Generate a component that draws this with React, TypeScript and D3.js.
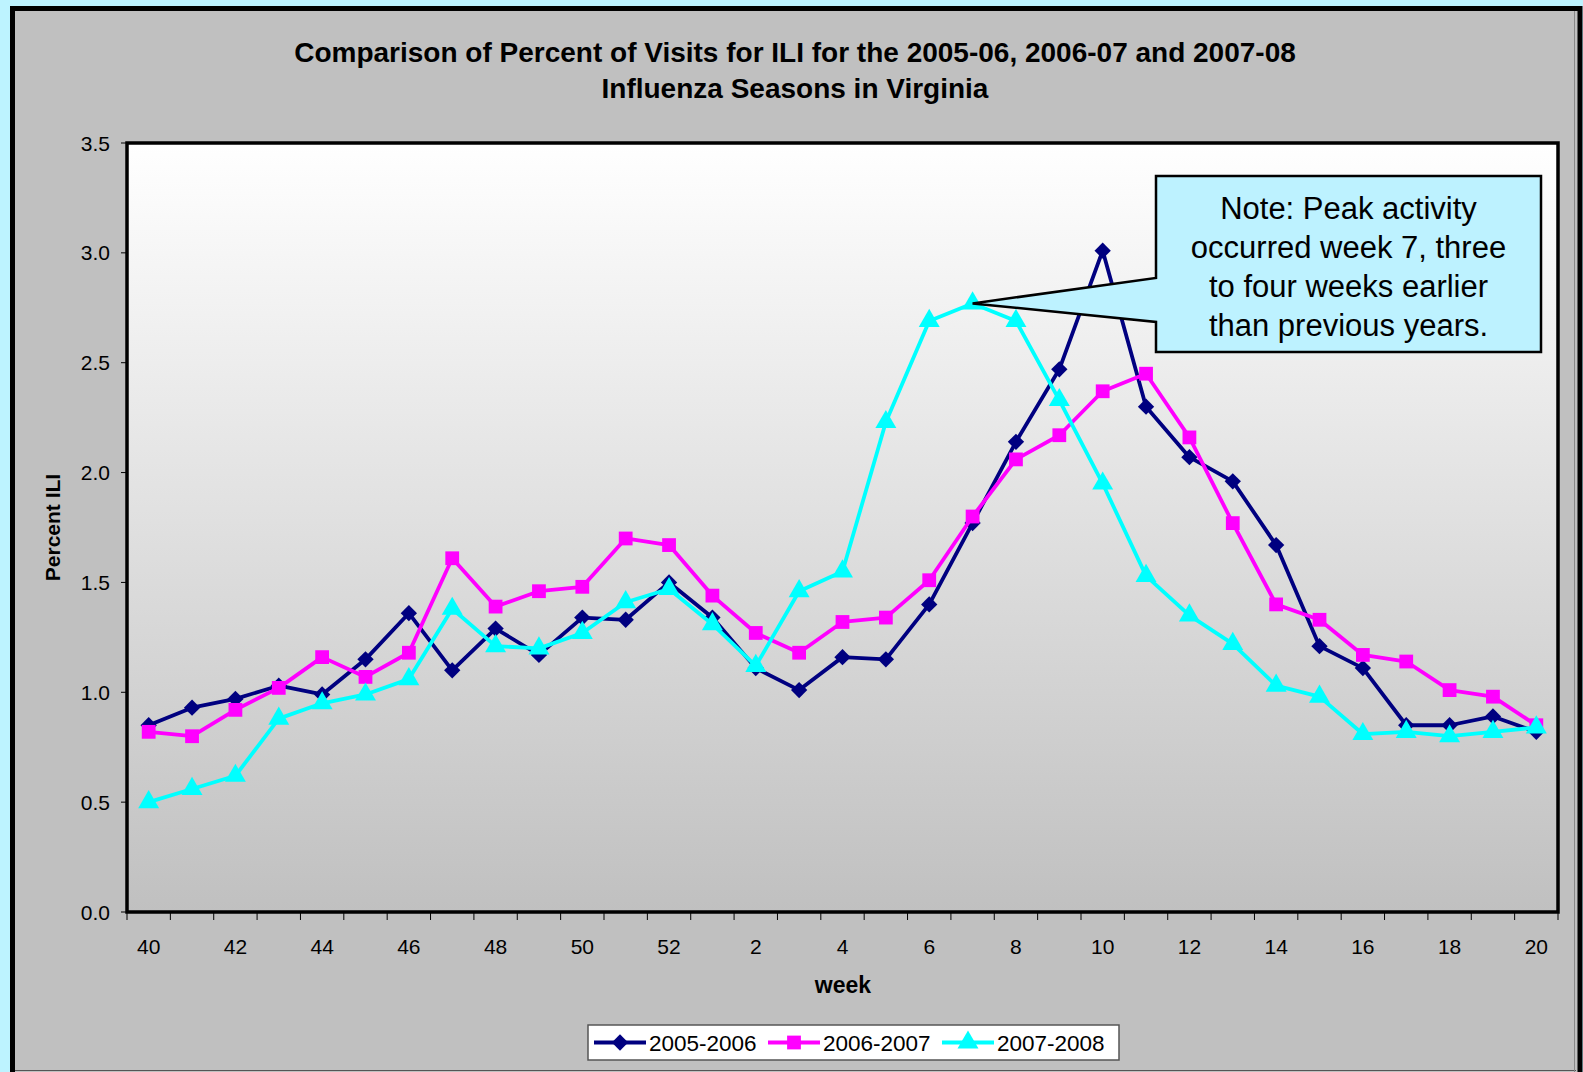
import * as d3 from "d3";
import React, { useEffect } from "react";

const width = 1583;
const height = 1072;
const margin = { top: 143, right: 25, bottom: 160, left: 127 };

// weeks 40..52 then 1..20
const weeks = [
  40, 41, 42, 43, 44, 45, 46, 47, 48, 49, 50, 51, 52,
  1, 2, 3, 4, 5, 6, 7, 8, 9, 10, 11, 12, 13, 14, 15, 16, 17, 18, 19, 20,
];

const season0506 = [
  0.85, 0.93, 0.97, 1.03, 0.99, 1.15, 1.36, 1.1, 1.29, 1.17, 1.34, 1.33, 1.5,
  1.34, 1.11, 1.01, 1.16, 1.15, 1.4, 1.77, 2.14, 2.47, 3.01, 2.3, 2.07, 1.96,
  1.67, 1.21, 1.11, 0.85, 0.85, 0.89, 0.82,
];

const season0607 = [
  0.82, 0.8, 0.92, 1.02, 1.16, 1.07, 1.18, 1.61, 1.39, 1.46, 1.48, 1.7, 1.67,
  1.44, 1.27, 1.18, 1.32, 1.34, 1.51, 1.8, 2.06, 2.17, 2.37, 2.45, 2.16, 1.77,
  1.4, 1.33, 1.17, 1.14, 1.01, 0.98, 0.85,
];

const season0708 = [
  0.5, 0.56, 0.62, 0.88, 0.95, 0.99, 1.06, 1.38, 1.21, 1.2, 1.27, 1.41, 1.47,
  1.31, 1.12, 1.46, 1.55, 2.23, 2.69, 2.77, 2.69, 2.33, 1.95, 1.53, 1.35, 1.22,
  1.03, 0.98, 0.81, 0.82, 0.8, 0.82, 0.84,
];

const yTicks = [0, 0.5, 1, 1.5, 2, 2.5, 3, 3.5];

const seriesNames = ["2005-2006", "2006-2007", "2007-2008"];
const seriesColors = ["#000080", "#FF00FF", "#00FFFF"];
const seriesShapes = [d3.symbolDiamond2, d3.symbolSquare, d3.symbolTriangle];
const symbolSizes = [170, 190, 190];

const titleLines = [
  "Comparison of Percent of Visits for ILI for the 2005-06, 2006-07 and 2007-08",
  "Influenza Seasons in Virginia",
];
const noteLines = [
  "Note: Peak activity",
  "occurred week 7, three",
  "to four weeks earlier",
  "than previous years.",
];

const font = "Arial, 'Liberation Sans', sans-serif";

const App = () => {
  useEffect(() => {
    document.body.style.margin = "0";
    document.body.style.overflow = "hidden";
  }, []);

  const allSeries = [season0506, season0607, season0708];

  const xScale = d3
    .scaleBand<number>()
    .domain(d3.range(weeks.length))
    .range([margin.left, width - margin.right]);

  const yScale = d3
    .scaleLinear()
    .domain([0, 3.5])
    .range([height - margin.bottom, margin.top]);

  const cx = (i: number) => (xScale(i) as number) + xScale.bandwidth() / 2;

  const line = d3
    .line<number>()
    .x((d, i) => cx(i))
    .y((d) => yScale(d));

  const plotLeft = margin.left;
  const plotRight = width - margin.right;
  const plotTop = margin.top;
  const plotBottom = height - margin.bottom;

  // callout box
  const box = { x: 1156, y: 176, w: 385, h: 176 };
  const peakIdx = 19;
  const tipX = cx(peakIdx);
  const tipY = yScale(season0708[peakIdx]);
  const calloutPath = [
    `M${box.x},${box.y}`,
    `L${box.x + box.w},${box.y}`,
    `L${box.x + box.w},${box.y + box.h}`,
    `L${box.x},${box.y + box.h}`,
    `L${box.x},${322}`,
    `L${tipX},${tipY}`,
    `L${box.x},${278}`,
    "Z",
  ].join(" ");

  const legend = { x: 588, y: 1025, w: 531, h: 35, step: 174 };

  return (
    <svg
      width={width}
      height={height}
      style={{ position: "absolute", left: 0, top: 0, display: "block" }}
      fontFamily={font}
    >
      <defs>
        <linearGradient id="plotGrad" x1="0" y1="0" x2="0" y2="1">
          <stop offset="0%" stopColor="#FFFFFF" />
          <stop offset="100%" stopColor="#C0C0C0" />
        </linearGradient>
      </defs>

      {/* outer background and frame */}
      <rect x={0} y={0} width={width} height={height} fill="#BDF3FF" />
      <rect
        x={12.5}
        y={8.5}
        width={1567.5}
        height={1100}
        fill="#C0C0C0"
        stroke="#000"
        strokeWidth={5}
      />
      <line x1={15} x2={1576} y1={1070.5} y2={1070.5} stroke="#555" strokeWidth={1} />
      <line x1={1574.5} x2={1574.5} y1={11} y2={1072} stroke="#888" strokeWidth={1} />

      {/* title */}
      {titleLines.map((t, i) => (
        <text
          key={i}
          x={795}
          y={62 + i * 36}
          textAnchor="middle"
          fontSize={28}
          fontWeight="bold"
        >
          {t}
        </text>
      ))}

      {/* plot area */}
      <rect
        x={plotLeft}
        y={plotTop}
        width={plotRight - plotLeft}
        height={plotBottom - plotTop}
        fill="url(#plotGrad)"
        stroke="#000"
        strokeWidth={3.5}
      />

      {/* y axis ticks + labels */}
      {yTicks.map((t) => (
        <g key={t}>
          <line
            x1={plotLeft - 6}
            x2={plotLeft}
            y1={yScale(t)}
            y2={yScale(t)}
            stroke="#000"
            strokeWidth={1}
          />
          <text
            x={110}
            y={yScale(t)}
            dy="0.36em"
            textAnchor="end"
            fontSize={21}
          >
            {t.toFixed(1)}
          </text>
        </g>
      ))}

      {/* x axis ticks + labels */}
      {d3.range(weeks.length + 1).map((i) => {
        const x = i < weeks.length ? (xScale(i) as number) : plotRight;
        return (
          <line
            key={i}
            x1={x}
            x2={x}
            y1={plotBottom}
            y2={plotBottom + 8}
            stroke="#000"
            strokeWidth={1}
          />
        );
      })}
      {weeks.map((w, i) =>
        i % 2 === 0 ? (
          <text
            key={i}
            x={cx(i)}
            y={954}
            textAnchor="middle"
            fontSize={21}
          >
            {w}
          </text>
        ) : null
      )}

      {/* axis titles */}
      <text
        transform={`translate(60, ${(plotTop + plotBottom) / 2}) rotate(-90)`}
        textAnchor="middle"
        fontSize={21}
        fontWeight="bold"
      >
        Percent ILI
      </text>
      <text x={843} y={993} textAnchor="middle" fontSize={23} fontWeight="bold">
        week
      </text>

      {/* series */}
      {allSeries.map((s, k) => (
        <g key={k}>
          <path
            d={line(s) as string}
            fill="none"
            stroke={seriesColors[k]}
            strokeWidth={3.8}
            strokeLinejoin="round"
          />
          {s.map((v, i) => (
            <path
              key={i}
              d={d3.symbol().type(seriesShapes[k]).size(symbolSizes[k])() as string}
              transform={`translate(${cx(i)}, ${yScale(v)})`}
              fill={seriesColors[k]}
            />
          ))}
        </g>
      ))}

      {/* callout */}
      <path d={calloutPath} fill="#BDF2FF" stroke="#000" strokeWidth={2.5} />
      {noteLines.map((t, i) => (
        <text
          key={i}
          x={box.x + box.w / 2}
          y={box.y + 43 + i * 39}
          textAnchor="middle"
          fontSize={31}
        >
          {t}
        </text>
      ))}

      {/* legend */}
      <rect
        x={legend.x}
        y={legend.y}
        width={legend.w}
        height={legend.h}
        fill="#fff"
        stroke="#555"
        strokeWidth={1.5}
      />
      {seriesNames.map((n, k) => {
        const x0 = legend.x + 6 + k * legend.step;
        const ym = legend.y + legend.h / 2;
        return (
          <g key={n}>
            <line
              x1={x0}
              x2={x0 + 52}
              y1={ym}
              y2={ym}
              stroke={seriesColors[k]}
              strokeWidth={3.8}
            />
            <path
              d={d3.symbol().type(seriesShapes[k]).size(symbolSizes[k])() as string}
              transform={`translate(${x0 + 26}, ${ym})`}
              fill={seriesColors[k]}
            />
            <text x={x0 + 55} y={ym} dy="0.36em" fontSize={22.5}>
              {n}
            </text>
          </g>
        );
      })}
    </svg>
  );
};

export default App;
